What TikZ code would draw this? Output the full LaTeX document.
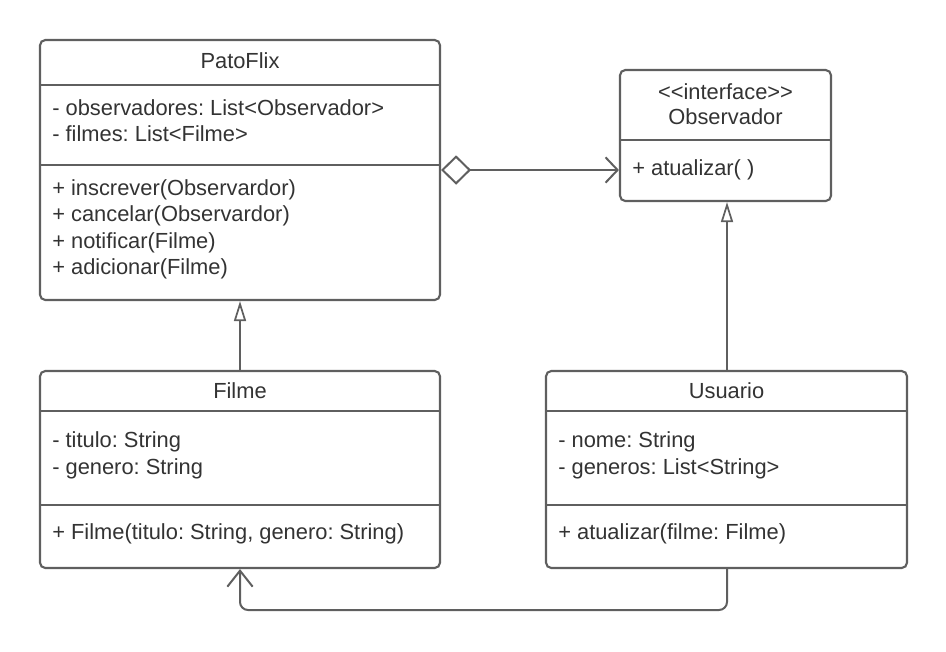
\documentclass[tikz,border=0pt]{standalone}
\usepackage{fontspec}
\setmainfont{Liberation Sans}
\usetikzlibrary{positioning,arrows.meta}
\frenchspacing

\tikzset{
    classbox/.style={draw=lineColour, line width=1.6pt, rounded corners=4pt, inner sep=0pt},
    member/.style={anchor=west, inner sep=0pt, text=textColour, font=\fontsize{16.4}{19}\selectfont},
    title/.style={inner sep=0pt, text=textColour, font=\fontsize{16.4}{19}\selectfont},
    link/.style={draw=lineColour, line width=1.5pt},
    generalise/.style={link, -{Triangle[open, width=9pt, length=15pt, line width=1.3pt]}},
}

\begin{document}
\begin{tikzpicture}[x=0.75pt, y=-0.75pt]
    \definecolor{lineColour}{HTML}{5F5F5F}
    \definecolor{textColour}{HTML}{333333}

    \useasboundingbox (0,0) rectangle (946,651);

    % Draw class boxes
    \node[classbox, minimum width=300pt, minimum height=195pt] (patoflix) at (240,170) {};
    \node[classbox, minimum width=158.25pt, minimum height=98.25pt] (observador) at (725.5,135.5) {};
    \node[classbox, minimum width=300pt, minimum height=147.75pt] (filme) at (240,469.5) {};
    \node[classbox, minimum width=270.75pt, minimum height=147.75pt] (usuario) at (726.5,469.5) {};

    % Draw compartment lines
    \draw[link] (40,85) -- (440,85);
    \draw[link] (40,165) -- (440,165);
    \draw[link] (620,140) -- (831,140);
    \draw[link] (40,411) -- (440,411);
    \draw[link] (40,505) -- (440,505);
    \draw[link] (546,411) -- (907,411);
    \draw[link] (546,505) -- (907,505);

    % PatoFlix
    \node[title] (patoflixName) at (240,61) {PatoFlix};
    \node[member] (pf1) at (52,108) {- observadores: List<Observador>};
    \node[member] (pf2) at (52,134) {- filmes: List<Filme>};
    \node[member] (pf3) at (52,190) {+ inscrever(Observardor)};
    \node[member] (pf4) at (52,216) {+ cancelar(Observardor)};
    \node[member] (pf5) at (52,243) {+ notificar(Filme)};
    \node[member] (pf6) at (52,269) {+ adicionar(Filme)};

    % Observador
    \node[title] (obsStereo) at (725.5,92) {<{}<interface>{}>};
    \node[title] (obsName) at (725.5,117) {Observador};
    \node[member] (obs1) at (632,170) {+ atualizar( )};

    % Filme
    \node[title] (filmeName) at (240,391) {Filme};
    \node[member] (fi1) at (52,442) {- titulo: String};
    \node[member] (fi2) at (52,469) {- genero: String};
    \node[member] (fi3) at (52,534) {+ Filme(titulo: String, genero: String)};

    % Usuario
    \node[title] (usuarioName) at (726.5,391) {Usuario};
    \node[member] (us1) at (558,442) {- nome: String};
    \node[member] (us2) at (558,469) {- generos: List<String>};
    \node[member] (us3) at (558,534) {+ atualizar(filme: Filme)};

    % Aggregation PatoFlix -> Observador
    \draw[link, {Diamond[open, width=22pt, length=22.5pt, line width=1.5pt]}-{Straight Barb[width=19pt, length=9pt, line width=1.5pt]}]
        (patoflix.east |- 0,170) -- (observador.west |- 0,170);

    % Generalisations
    \draw[generalise] (filme.north) -- (patoflix.south);
    \draw[generalise] (usuario.north -| 727,0) -- (observador.south -| 727,0);

    % Usuario -> Filme
    \coordinate (turnR) at (727,610);
    \coordinate (turnL) at (240,610);
    \draw[link, rounded corners=6pt, -{Straight Barb[width=19pt, length=12pt, line width=1.5pt]}]
        (usuario.south -| turnR) -- (turnR) -- (turnL) -- (filme.south);

\end{tikzpicture}
\end{document}
